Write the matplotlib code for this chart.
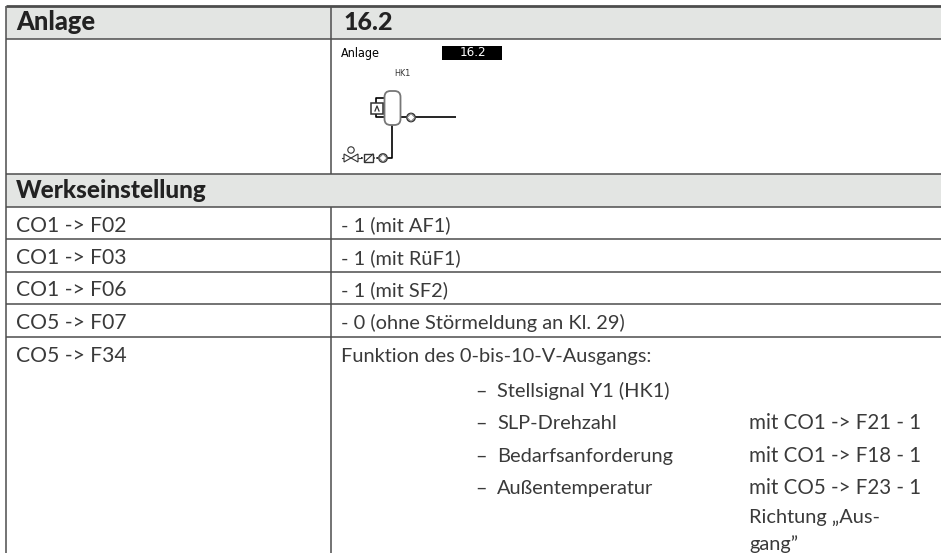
#!/usr/bin/env python3
# -*- coding: utf-8 -*-

import matplotlib
matplotlib.use('Agg')
import matplotlib.pyplot as plt
from matplotlib.patches import Rectangle, Circle, FancyBboxPatch, Polygon

W, H = 941, 553
LINE = '#4d4d4d'
HEAD = '#e3e5e3'
INK = '#3a3a3a'

title_left = 'Anlage'
title_right = '16.2'
section = 'Werkseinstellung'
left_cells = ['CO1 -> F02', 'CO1 -> F03', 'CO1 -> F06', 'CO5 -> F07', 'CO5 -> F34']
right_cells = ['- 1 (mit AF1)', '- 1 (mit RüF1)', '- 1 (mit SF2)',
               '- 0 (ohne Störmeldung an Kl. 29)', 'Funktion des 0-bis-10-V-Ausgangs:']
options = ['Stellsignal Y1 (HK1)', 'SLP-Drehzahl', 'Bedarfsanforderung', 'Außentemperatur']
conditions = ['', 'mit CO1 -> F21 - 1', 'mit CO1 -> F18 - 1', 'mit CO5 -> F23 - 1']
extra_lines = ['Richtung „Aus-', 'gang”']

# table layout in pixels
x_left, x_mid = 6, 331
row_lines = [6, 38.5, 173.5, 206.5, 238.5, 271.5, 304, 337]
row_base = [231.5, 264, 296.5, 329, 362]
option_base = [396.5, 429, 462, 494]
extra_base = [522.5, 550]

fig = plt.figure(figsize=(W / 100, H / 100), dpi=100)
ax = fig.add_axes([0, 0, 1, 1])
ax.set_xlim(0, W)
ax.set_ylim(H, 0)
ax.axis('off')

# grey header bands
ax.add_patch(Rectangle((x_left, row_lines[0]), W - x_left, row_lines[1] - row_lines[0], fc=HEAD, ec='none'))
ax.add_patch(Rectangle((x_left, row_lines[2]), W - x_left, row_lines[3] - row_lines[2], fc=HEAD, ec='none'))

# grid
for i, y in enumerate(row_lines):
    ax.plot([x_left, W], [y, y], color=LINE, lw=2.0 if i == 0 else 1.1, solid_capstyle='butt')
ax.plot([x_left, x_left], [row_lines[0], H], color=LINE, lw=1.1, solid_capstyle='butt')
ax.plot([x_mid, x_mid], [row_lines[0], row_lines[2]], color=LINE, lw=1.1, solid_capstyle='butt')
ax.plot([x_mid, x_mid], [row_lines[3], H], color=LINE, lw=1.1, solid_capstyle='butt')

# headers
bold = dict(family='Lato', weight='black', color='#222222', va='baseline')
ax.text(16, 30.5, title_left, fontsize=18.4, **bold)
ax.text(344, 30.5, title_right, fontsize=18, **bold)
ax.text(16, 198, section, fontsize=17.5, **bold)

# body rows
body = dict(family='Lato', weight='normal', color=INK, va='baseline')
for i in range(len(left_cells)):
    ax.text(16, row_base[i], left_cells[i], fontsize=15.2, **body)
    ax.text(341.5, row_base[i], right_cells[i], fontsize=14.4, **body)

# option list below the last row
for i in range(len(options)):
    ax.text(475, option_base[i], '–', fontsize=14.4, **body)
    ax.text(497, option_base[i], options[i], fontsize=14.4, **body)
    if conditions[i]:
        ax.text(749, option_base[i], conditions[i], fontsize=14.8, **body)
for i in range(len(extra_lines)):
    ax.text(749, extra_base[i], extra_lines[i], fontsize=14.4, **body)

# controller display picture
lcd = dict(family='DejaVu Sans', stretch='condensed', va='center')
ax.text(341, 53, 'Anlage', fontsize=9, color='black', **lcd)
ax.add_patch(Rectangle((442, 46), 60, 14, fc='black', ec='none'))
ax.text(473, 53, '16.2', fontsize=9.5, color='white', ha='center', **lcd)
ax.text(402, 73, 'HK1', fontsize=6.5, color='#333333', ha='center', **lcd)

ln = dict(color='black', lw=1.2, solid_capstyle='butt')
# storage tank
ax.add_patch(FancyBboxPatch((384.5, 91), 16, 34, boxstyle='round,pad=0,rounding_size=6', fc='white', ec='#777777', lw=1.3, zorder=3))
ax.plot([376, 376, 384.5], [103, 98, 98], **ln)
ax.plot([376, 376, 384.5], [114, 117, 117], **ln)
ax.add_patch(Rectangle((371.5, 103), 11.5, 11, fc='white', ec='#333333', lw=1.1, zorder=3))
ax.plot([375, 377, 379], [111, 106, 111], color='#333333', lw=0.9, zorder=4)
# upper pump and outlet
ax.plot([401, 407], [117, 117], **ln)
ax.add_patch(Circle((411, 117.5), 4.2, fc='white', ec='#333333', lw=1, zorder=3))
ax.add_patch(Polygon([(407, 117.5), (411, 113.5), (415, 117.5), (411, 121.5)], fc='none', ec='#777777', lw=0.7, zorder=4))
ax.plot([415.5, 456], [117, 117], **ln)
# return line and lower row
ax.plot([392, 392, 387.5], [125, 158, 158], **ln)
ax.add_patch(Circle((383, 158), 4.2, fc='white', ec='#333333', lw=1, zorder=3))
ax.add_patch(Polygon([(379, 158), (383, 154), (387, 158), (383, 162)], fc='none', ec='#777777', lw=0.7, zorder=4))
ax.add_patch(Rectangle((364.5, 154), 8.5, 8, fc='white', ec='#333333', lw=1, zorder=3))
ax.plot([364.5, 373], [162, 154], color='#333333', lw=0.8, zorder=4)
ax.plot([361, 364.5], [158, 158], color='black', lw=1.2, ls=(0, (1, 1)))
ax.plot([373, 379], [158, 158], color='black', lw=1.2, ls=(0, (1, 1)))
ax.add_patch(Polygon([(344, 154), (351, 158), (344, 162)], fc='white', ec='#333333', lw=0.8, zorder=3))
ax.add_patch(Polygon([(358, 154), (351, 158), (358, 162)], fc='white', ec='#333333', lw=0.8, zorder=3))
ax.add_patch(Circle((351, 150), 3.2, fc='white', ec='#333333', lw=0.8, zorder=3))
ax.plot([342, 344], [158, 158], color='#333333', lw=0.8)
ax.plot([358, 360], [158, 158], color='#333333', lw=0.8)

fig.savefig('out.png', dpi=100)
